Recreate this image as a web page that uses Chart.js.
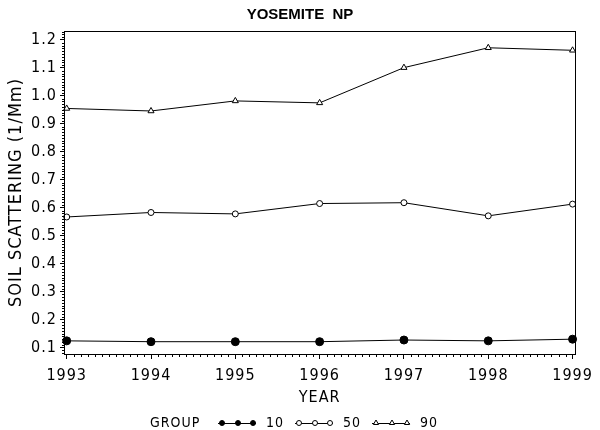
<!DOCTYPE html>
<html lang="en">
<head>
    <meta charset="UTF-8">
    <title>Yosemite NP - Soil Scattering</title>
    <script src="https://cdn.jsdelivr.net/npm/chart.js@4.4.0/dist/chart.umd.min.js"></script>
    <style>
        body {
            margin: 0;
            background: #fff;
        }

        .chart-box {
            position: relative;
            width: 600px;
            height: 430px;
        }
    </style>
</head>
<body>
    <div class="chart-box">
        <canvas id="soilChart" width="600" height="430"></canvas>
    </div>

    <script>
        const years = [1993, 1994, 1995, 1996, 1997, 1998, 1999];
        const group10 = [0.124, 0.121, 0.121, 0.121, 0.127, 0.124, 0.130];
        const group50 = [0.567, 0.583, 0.578, 0.615, 0.618, 0.571, 0.613];
        const group90 = [0.955, 0.946, 0.982, 0.975, 1.101, 1.172, 1.163];
        const groupNames = ['10', '50', '90'];
        const yTickValues = [0.1, 0.2, 0.3, 0.4, 0.5, 0.6, 0.7, 0.8, 0.9, 1.0, 1.1, 1.2];

        const fontFamily = "'DejaVu Sans Condensed', 'DejaVu Sans', sans-serif";

        function toPoints(values) {
            return years.map((yr, i) => ({ x: yr, y: values[i] }));
        }

        // spaced-out lettering like the original plot
        const spacingPlugin = {
            id: 'spacing',
            beforeLayout(chart) { chart.ctx.letterSpacing = '1px'; },
            beforeDraw(chart) { chart.ctx.letterSpacing = '1px'; }
        };

        // frame, minor ticks, title and the legend row
        const decorPlugin = {
            id: 'decor',
            afterDraw(chart) {
                const ctx = chart.ctx;
                const area = chart.chartArea;
                const xs = chart.scales.x;
                const ys = chart.scales.y;
                ctx.save();
                ctx.strokeStyle = '#000';
                ctx.lineWidth = 1;
                ctx.strokeRect(Math.round(area.left) + 0.5, Math.round(area.top) + 0.5,
                    Math.round(area.right - area.left), Math.round(area.bottom - area.top));

                ctx.beginPath();
                const months = (years[years.length - 1] - years[0]) * 12;
                for (let i = 1; i < months; i++) {
                    if (i % 12 === 0) continue;
                    const px = Math.round(xs.getPixelForValue(years[0] + i / 12)) + 0.5;
                    ctx.moveTo(px, area.bottom);
                    ctx.lineTo(px, area.bottom + 3);
                }
                for (let k = Math.ceil(ys.min * 100); k <= Math.floor(ys.max * 100); k++) {
                    if (k % 10 === 0) continue;
                    const py = Math.round(ys.getPixelForValue(k / 100)) + 0.5;
                    ctx.moveTo(area.left, py);
                    ctx.lineTo(area.left - 2, py);
                }
                ctx.stroke();

                // title
                ctx.letterSpacing = '0px';
                ctx.fillStyle = '#000';
                ctx.font = "bold 15px 'Liberation Sans', Arial, sans-serif";
                ctx.textAlign = 'center';
                ctx.textBaseline = 'middle';
                ctx.fillText('YOSEMITE  NP', 300, 15);

                // legend
                ctx.letterSpacing = '1px';
                ctx.font = '14px ' + fontFamily;
                ctx.textAlign = 'left';
                const ly = 423;
                let lx = 150;
                ctx.fillText('GROUP', lx, ly);
                lx = 218;
                chart.data.datasets.forEach((ds) => {
                    ctx.beginPath();
                    ctx.moveTo(lx, ly + 0.5);
                    ctx.lineTo(lx + 38, ly + 0.5);
                    ctx.stroke();
                    [4, 20, 35].forEach((dx) => {
                        ctx.fillStyle = ds.pointBackgroundColor;
                        ctx.strokeStyle = '#000';
                        Chart.helpers.drawPoint(ctx, {
                            pointStyle: ds.pointStyle,
                            radius: ds.pointStyle === 'triangle' ? 3 : 2.5,
                            borderWidth: 1
                        }, lx + dx, ly);
                    });
                    ctx.fillStyle = '#000';
                    ctx.fillText(ds.label, lx + 48, ly);
                    lx += 77;
                });
                ctx.restore();
            }
        };

        function makeDataset(name, values, style, fill, radius) {
            return {
                label: name,
                data: toPoints(values),
                borderColor: '#000',
                borderWidth: 1,
                pointStyle: style,
                pointRadius: radius,
                pointBackgroundColor: fill,
                pointBorderColor: '#000',
                pointBorderWidth: 1,
                tension: 0,
                clip: false
            };
        }

        new Chart(document.getElementById('soilChart'), {
            type: 'line',
            data: {
                datasets: [
                    makeDataset(groupNames[0], group10, 'circle', '#000', 4),
                    makeDataset(groupNames[1], group50, 'circle', '#fff', 3),
                    makeDataset(groupNames[2], group90, 'triangle', '#fff', 3.5)
                ]
            },
            options: {
                responsive: false,
                animation: false,
                layout: {
                    padding: { top: 31, right: 21, left: 0, bottom: 0 }
                },
                plugins: {
                    legend: { display: false },
                    title: { display: false },
                    tooltip: { enabled: false }
                },
                scales: {
                    x: {
                        type: 'linear',
                        min: 1992.968,
                        max: 1999.032,
                        afterBuildTicks(scale) {
                            scale.ticks = years.map(v => ({ value: v }));
                        },
                        afterFit(scale) { scale.height = 76; },
                        grid: { drawOnChartArea: false, tickLength: 5, color: '#000' },
                        border: { color: '#000', width: 1 },
                        ticks: {
                            color: '#000',
                            padding: 7,
                            maxRotation: 0,
                            font: { family: fontFamily, size: 16 },
                            callback: v => String(v)
                        },
                        title: {
                            display: true,
                            text: 'YEAR',
                            color: '#000',
                            font: { family: fontFamily, size: 16 },
                            padding: { top: 0, bottom: 23 }
                        }
                    },
                    y: {
                        min: 0.077,
                        max: 1.232,
                        afterBuildTicks(scale) {
                            scale.ticks = yTickValues.map(v => ({ value: v }));
                        },
                        afterFit(scale) { scale.width = 64; },
                        grid: { drawOnChartArea: false, tickLength: 4, color: '#000' },
                        border: { color: '#000', width: 1 },
                        ticks: {
                            color: '#000',
                            padding: 3,
                            font: { family: fontFamily, size: 16 },
                            callback: v => v.toFixed(1)
                        },
                        title: {
                            display: true,
                            text: 'SOIL SCATTERING (1/Mm)',
                            color: '#000',
                            font: { family: fontFamily, size: 18 },
                            padding: { top: 6, bottom: 0 }
                        }
                    }
                }
            },
            plugins: [spacingPlugin, decorPlugin]
        });
    </script>
</body>
</html>
